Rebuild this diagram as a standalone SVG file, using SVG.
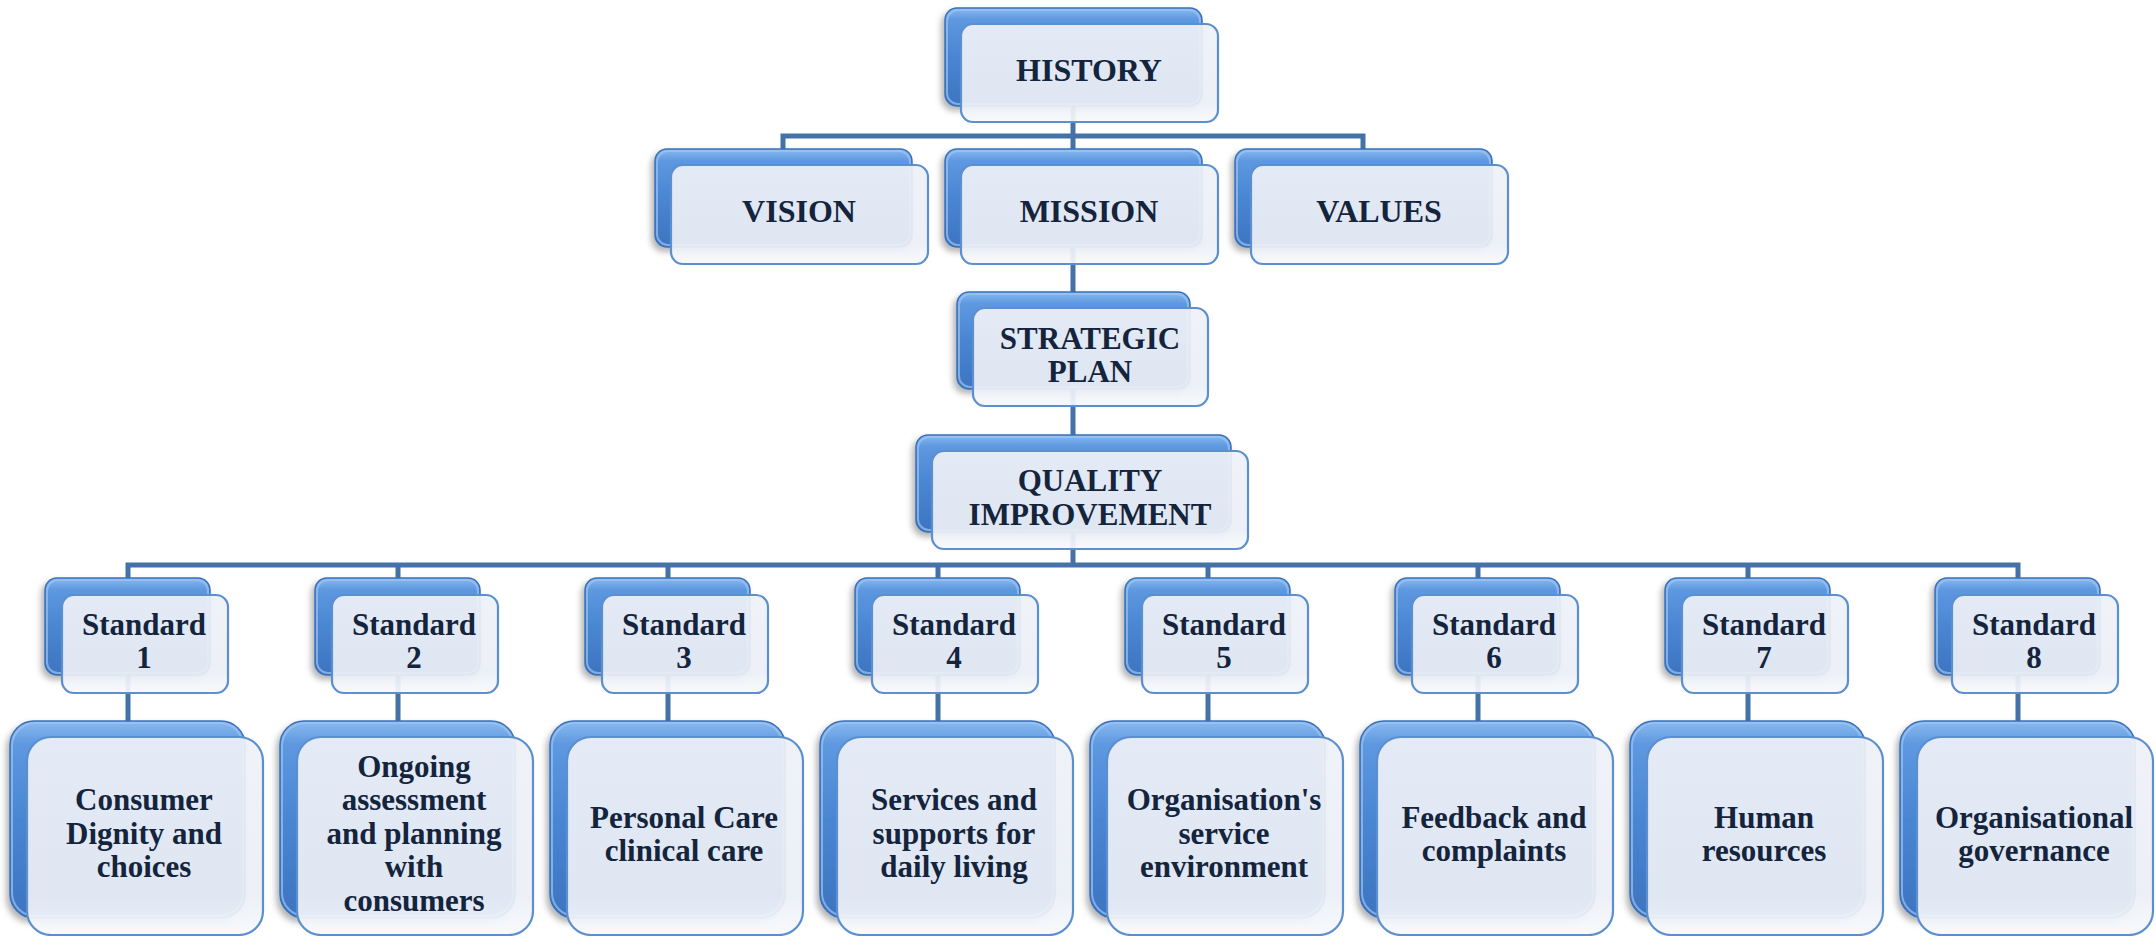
<svg xmlns="http://www.w3.org/2000/svg" width="2156" height="936" viewBox="0 0 2156 936">
<style>
.back{fill:url(#backGrad);stroke:#3b70b8;stroke-width:1.5;filter:url(#shadow)}
.backHi{fill:none;stroke:#9cc4f2;stroke-width:2;opacity:0.7}
.front{fill:url(#frontGrad);fill-opacity:0.93;stroke:#5b8fcf;stroke-width:2.2}
.conn{fill:none;stroke:#4472a8;stroke-width:5;stroke-linejoin:miter}
text{font-family:"Liberation Serif","Times New Roman",serif;font-weight:bold;fill:#14243c;text-anchor:middle}
.cap{font-size:32px}
.cap2{font-size:31px}
.lbl{font-size:31px}
</style>
<defs>
<linearGradient id="backGrad" x1="0" y1="0" x2="0" y2="1">
<stop offset="0" stop-color="#8ab9ef"/>
<stop offset="0.12" stop-color="#5d98e0"/>
<stop offset="0.5" stop-color="#4a86d2"/>
<stop offset="1" stop-color="#3d74c0"/>
</linearGradient>
<linearGradient id="frontGrad" x1="0" y1="0" x2="0" y2="1">
<stop offset="0" stop-color="#eef1f7"/>
<stop offset="0.8" stop-color="#ebeff6"/>
<stop offset="1" stop-color="#f7f9fc"/>
</linearGradient>
<filter id="shadow" x="-10%" y="-10%" width="120%" height="130%">
<feDropShadow dx="-3" dy="4" stdDeviation="3" flood-color="#000" flood-opacity="0.3"/>
</filter>
</defs>

<g id="connectors">
<path class="conn" d="M1073,60 V136"/>
<path class="conn" d="M783,190 V136 H1363 V190"/>
<path class="conn" d="M1073,136 V340"/>
<path class="conn" d="M1073,340 V480"/>
<path class="conn" d="M1073,480 V565"/>
<path class="conn" d="M128,620 V565 H2018 V620"/>
<path class="conn" d="M398,565 V620 M668,565 V620 M938,565 V620 M1208,565 V620 M1478,565 V620 M1748,565 V620"/>
<path class="conn" d="M128,640 V750 M398,640 V750 M668,640 V750 M938,640 V750 M1208,640 V750 M1478,640 V750 M1748,640 V750 M2018,640 V750"/>
</g>

<g id="history">
<rect class="back" x="945" y="8" width="257" height="98" rx="12"/>
<rect class="backHi" x="947" y="10" width="253" height="94" rx="11"/>
<rect class="front" x="961" y="24" width="257" height="98" rx="12"/>
<text class="cap" x="1089" y="81">HISTORY</text>
</g>

<g id="vision">
<rect class="back" x="655" y="149" width="257" height="98" rx="12"/>
<rect class="backHi" x="657" y="151" width="253" height="94" rx="11"/>
<rect class="front" x="671" y="165" width="257" height="99" rx="12"/>
<text class="cap" x="799" y="222">VISION</text>
</g>

<g id="mission">
<rect class="back" x="945" y="149" width="257" height="98" rx="12"/>
<rect class="backHi" x="947" y="151" width="253" height="94" rx="11"/>
<rect class="front" x="961" y="165" width="257" height="99" rx="12"/>
<text class="cap" x="1089" y="222">MISSION</text>
</g>

<g id="values">
<rect class="back" x="1235" y="149" width="257" height="98" rx="12"/>
<rect class="backHi" x="1237" y="151" width="253" height="94" rx="11"/>
<rect class="front" x="1251" y="165" width="257" height="99" rx="12"/>
<text class="cap" x="1379" y="222">VALUES</text>
</g>

<g id="strategic-plan">
<rect class="back" x="957" y="292" width="233" height="97" rx="12"/>
<rect class="backHi" x="959" y="294" width="229" height="93" rx="11"/>
<rect class="front" x="973" y="308" width="235" height="98" rx="12"/>
<text class="cap2" x="1090" y="349">STRATEGIC</text>
<text class="cap2" x="1090" y="382">PLAN</text>
</g>

<g id="quality-improvement">
<rect class="back" x="916" y="435" width="315" height="97" rx="12"/>
<rect class="backHi" x="918" y="437" width="311" height="93" rx="11"/>
<rect class="front" x="932" y="451" width="316" height="98" rx="12"/>
<text class="cap2" x="1090" y="491">QUALITY</text>
<text class="cap2" x="1090" y="525">IMPROVEMENT</text>
</g>

<g id="standard-1">
<rect class="back" x="45" y="578" width="165" height="97" rx="12"/>
<rect class="backHi" x="47" y="580" width="161" height="93" rx="11"/>
<rect class="front" x="62" y="595" width="166" height="98" rx="12"/>
<text class="lbl" x="144" y="635">Standard</text>
<text class="lbl" x="144" y="668">1</text>
</g>
<g id="standard-2">
<rect class="back" x="315" y="578" width="165" height="97" rx="12"/>
<rect class="backHi" x="317" y="580" width="161" height="93" rx="11"/>
<rect class="front" x="332" y="595" width="166" height="98" rx="12"/>
<text class="lbl" x="414" y="635">Standard</text>
<text class="lbl" x="414" y="668">2</text>
</g>
<g id="standard-3">
<rect class="back" x="585" y="578" width="165" height="97" rx="12"/>
<rect class="backHi" x="587" y="580" width="161" height="93" rx="11"/>
<rect class="front" x="602" y="595" width="166" height="98" rx="12"/>
<text class="lbl" x="684" y="635">Standard</text>
<text class="lbl" x="684" y="668">3</text>
</g>
<g id="standard-4">
<rect class="back" x="855" y="578" width="165" height="97" rx="12"/>
<rect class="backHi" x="857" y="580" width="161" height="93" rx="11"/>
<rect class="front" x="872" y="595" width="166" height="98" rx="12"/>
<text class="lbl" x="954" y="635">Standard</text>
<text class="lbl" x="954" y="668">4</text>
</g>
<g id="standard-5">
<rect class="back" x="1125" y="578" width="165" height="97" rx="12"/>
<rect class="backHi" x="1127" y="580" width="161" height="93" rx="11"/>
<rect class="front" x="1142" y="595" width="166" height="98" rx="12"/>
<text class="lbl" x="1224" y="635">Standard</text>
<text class="lbl" x="1224" y="668">5</text>
</g>
<g id="standard-6">
<rect class="back" x="1395" y="578" width="165" height="97" rx="12"/>
<rect class="backHi" x="1397" y="580" width="161" height="93" rx="11"/>
<rect class="front" x="1412" y="595" width="166" height="98" rx="12"/>
<text class="lbl" x="1494" y="635">Standard</text>
<text class="lbl" x="1494" y="668">6</text>
</g>
<g id="standard-7">
<rect class="back" x="1665" y="578" width="165" height="97" rx="12"/>
<rect class="backHi" x="1667" y="580" width="161" height="93" rx="11"/>
<rect class="front" x="1682" y="595" width="166" height="98" rx="12"/>
<text class="lbl" x="1764" y="635">Standard</text>
<text class="lbl" x="1764" y="668">7</text>
</g>
<g id="standard-8">
<rect class="back" x="1935" y="578" width="165" height="97" rx="12"/>
<rect class="backHi" x="1937" y="580" width="161" height="93" rx="11"/>
<rect class="front" x="1952" y="595" width="166" height="98" rx="12"/>
<text class="lbl" x="2034" y="635">Standard</text>
<text class="lbl" x="2034" y="668">8</text>
</g>

<g id="detail-1">
<rect class="back" x="10" y="721" width="235" height="197" rx="24"/>
<rect class="backHi" x="12" y="723" width="231" height="193" rx="23"/>
<rect class="front" x="27" y="737" width="236" height="198" rx="24"/>
<text class="lbl" x="144" y="810">Consumer</text>
<text class="lbl" x="144" y="844">Dignity and</text>
<text class="lbl" x="144" y="877">choices</text>
</g>
<g id="detail-2">
<rect class="back" x="280" y="721" width="235" height="197" rx="24"/>
<rect class="backHi" x="282" y="723" width="231" height="193" rx="23"/>
<rect class="front" x="297" y="737" width="236" height="198" rx="24"/>
<text class="lbl" x="414" y="777">Ongoing</text>
<text class="lbl" x="414" y="810">assessment</text>
<text class="lbl" x="414" y="844">and planning</text>
<text class="lbl" x="414" y="877">with</text>
<text class="lbl" x="414" y="911">consumers</text>
</g>
<g id="detail-3">
<rect class="back" x="550" y="721" width="235" height="197" rx="24"/>
<rect class="backHi" x="552" y="723" width="231" height="193" rx="23"/>
<rect class="front" x="567" y="737" width="236" height="198" rx="24"/>
<text class="lbl" x="684" y="828">Personal Care</text>
<text class="lbl" x="684" y="861">clinical care</text>
</g>
<g id="detail-4">
<rect class="back" x="820" y="721" width="235" height="197" rx="24"/>
<rect class="backHi" x="822" y="723" width="231" height="193" rx="23"/>
<rect class="front" x="837" y="737" width="236" height="198" rx="24"/>
<text class="lbl" x="954" y="810">Services and</text>
<text class="lbl" x="954" y="844">supports for</text>
<text class="lbl" x="954" y="877">daily living</text>
</g>
<g id="detail-5">
<rect class="back" x="1090" y="721" width="235" height="197" rx="24"/>
<rect class="backHi" x="1092" y="723" width="231" height="193" rx="23"/>
<rect class="front" x="1107" y="737" width="236" height="198" rx="24"/>
<text class="lbl" x="1224" y="810">Organisation's</text>
<text class="lbl" x="1224" y="844">service</text>
<text class="lbl" x="1224" y="877">environment</text>
</g>
<g id="detail-6">
<rect class="back" x="1360" y="721" width="235" height="197" rx="24"/>
<rect class="backHi" x="1362" y="723" width="231" height="193" rx="23"/>
<rect class="front" x="1377" y="737" width="236" height="198" rx="24"/>
<text class="lbl" x="1494" y="828">Feedback and</text>
<text class="lbl" x="1494" y="861">complaints</text>
</g>
<g id="detail-7">
<rect class="back" x="1630" y="721" width="235" height="197" rx="24"/>
<rect class="backHi" x="1632" y="723" width="231" height="193" rx="23"/>
<rect class="front" x="1647" y="737" width="236" height="198" rx="24"/>
<text class="lbl" x="1764" y="828">Human</text>
<text class="lbl" x="1764" y="861">resources</text>
</g>
<g id="detail-8">
<rect class="back" x="1900" y="721" width="235" height="197" rx="24"/>
<rect class="backHi" x="1902" y="723" width="231" height="193" rx="23"/>
<rect class="front" x="1917" y="737" width="236" height="198" rx="24"/>
<text class="lbl" x="2034" y="828">Organisational</text>
<text class="lbl" x="2034" y="861">governance</text>
</g>
</svg>
